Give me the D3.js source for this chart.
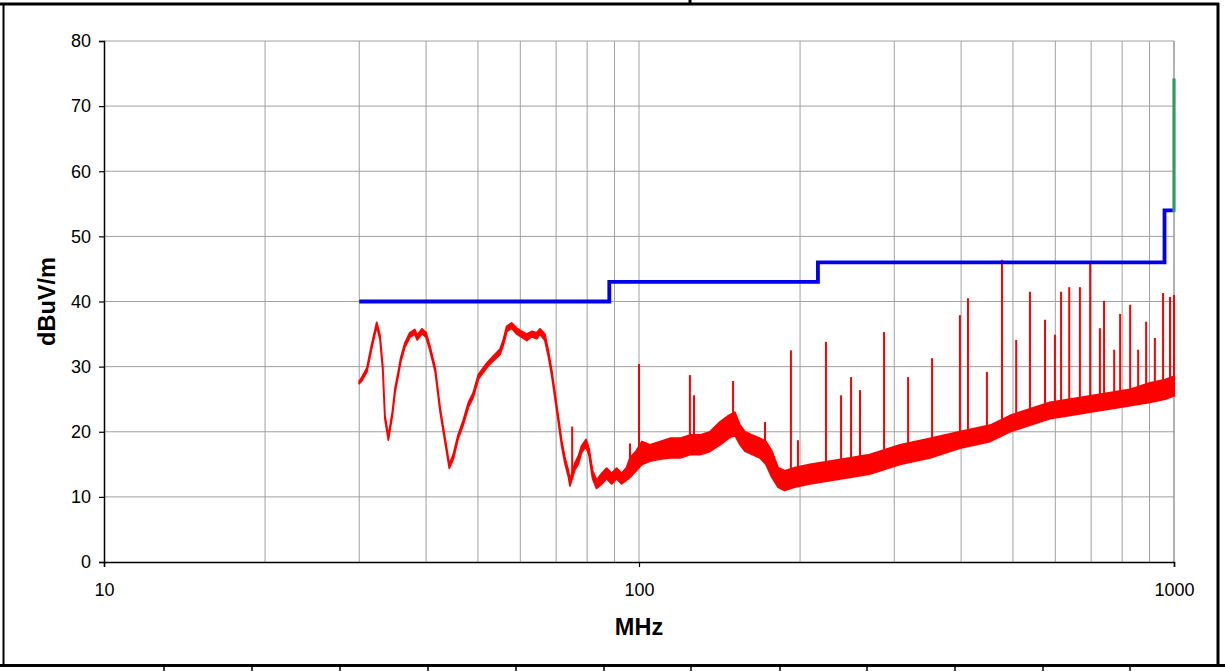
<!DOCTYPE html>
<html>
<head>
<meta charset="utf-8">
<script src="https://cdn.jsdelivr.net/npm/d3@7"></script>
<style>
  body { margin: 0; background: #fff; }
  svg { display: block; font-family: "Liberation Sans", Arial, sans-serif; }
</style>
</head>
<body>
<svg width="1225" height="671"></svg>
<script>
// axis ticks
const yTicks = [0, 10, 20, 30, 40, 50, 60, 70, 80];
const xTicks = [10, 100, 1000];
const gridFreqs = [20, 30, 40, 50, 60, 70, 80, 90, 100, 200, 300, 400, 500, 600, 700, 800, 900];

// limit line (class B, 3 m) - level changes at each frequency
const limitFreq = [30, 88, 216, 960, 1000];
const limitLevel = [40, 43, 46, 54, 54];
const peakLimitFreq = [1000, 1000];
const peakLimitLevel = [54, 74];

const traceFreq = [30.0, 30.3, 31.0, 31.65, 32.34, 32.8, 33.2, 33.5, 34.0, 34.6, 35.0, 35.5, 35.85, 36.5, 37.3,
  38.1, 38.5, 39.3, 40.0, 40.7, 41.6, 42.5, 43.4, 44.2, 45.0, 45.9, 46.9, 48.0, 49.0, 50.1, 51.9, 53.4, 55.0,
  55.8, 56.6, 57.8, 59.1, 60.4, 61.7, 63.0, 64.4, 65.3, 66.7, 67.7, 68.7, 69.7, 70.7, 71.7, 72.7, 73.8, 74.3,
  75.9, 77.0, 78.1, 79.6, 80.7, 81.9, 83.3, 85.2, 87.0, 88.9, 90.8, 92.8, 94.8, 96.2, 98.7, 101.3, 104.8,
  109.5, 114.3, 119.3, 124.5, 130.0, 135.8, 141.7, 147.1, 151.1, 154.5, 157.8, 162.8, 168.3, 172.7, 177.2,
  181.9, 187.2, 195.5, 208.7, 227.6, 247.9, 269.8, 307.5, 350, 398, 453, 494, 538, 586, 640, 697, 760, 828,
  902, 962, 1000];
const traceLow = [27.4, 27.8, 29.2, 32.8, 36.2, 34.2, 29.4, 22.0, 18.7, 22.5, 26.1, 28.7, 30.7, 33.0, 34.5,
  35.0, 34.1, 35.1, 34.5, 32.4, 29.2, 23.0, 18.4, 14.4, 15.9, 18.9, 21.0, 23.8, 25.3, 28.1, 29.8, 30.9, 31.9,
  33.4, 35.4, 35.9, 35.0, 34.5, 34.0, 34.6, 34.3, 35.0, 34.0, 31.6, 28.6, 25.0, 21.4, 17.8, 15.2, 13.1, 11.7,
  14.2, 15.0, 16.8, 17.8, 16.3, 12.8, 11.3, 12.0, 12.8, 12.0, 12.8, 12.0, 12.6, 13.0, 14.0, 15.0, 15.5,
  15.8, 16.0, 16.0, 16.5, 16.5, 17.0, 18.0, 19.0, 19.5, 18.0, 17.0, 16.5, 16.0, 15.0, 13.0, 11.5, 11.0,
  11.5, 12.0, 12.5, 13.0, 13.5, 15.0, 16.0, 17.5, 18.5, 20.0, 21.0, 22.0, 22.5, 23.0, 23.5, 24.0, 24.5,
  25.0, 25.5];
const traceHigh = [27.8, 28.3, 29.8, 33.4, 36.8, 34.8, 30.0, 22.6, 19.3, 23.1, 26.7, 29.3, 31.3, 33.6, 35.2,
  35.7, 34.8, 35.8, 35.2, 33.0, 29.8, 23.6, 19.0, 15.0, 16.6, 19.5, 21.7, 24.5, 26.0, 28.8, 30.5, 31.6, 32.7,
  34.2, 36.2, 36.7, 35.9, 35.4, 35.0, 35.4, 35.2, 35.8, 35.0, 32.4, 29.4, 25.8, 22.2, 18.6, 16.0, 14.0, 12.6,
  15.2, 16.2, 17.8, 18.8, 17.3, 14.0, 12.6, 13.6, 14.4, 13.6, 14.4, 13.6, 14.5, 16.0, 17.0, 18.5, 18.0,
  18.5, 19.0, 19.0, 19.5, 19.5, 20.0, 21.5, 22.5, 23.0, 21.0, 20.0, 19.5, 19.0, 18.5, 17.0, 14.5, 14.0,
  14.5, 15.0, 15.5, 16.0, 16.5, 18.0, 19.0, 20.0, 21.0, 22.5, 23.5, 24.5, 25.0, 25.5, 26.0, 26.5, 27.5,
  28.0, 28.5];

// narrow emission spikes above the noise band
const spikeFreq = [75.0, 96.2, 100.0, 124.5, 126.7, 149.9, 172.0, 192.3, 198.2, 223.6, 238.6, 249.1, 258.9,
  287.1, 318.4, 353.0, 398, 412, 447, 477, 507, 538, 574, 599, 615, 637, 667, 697, 727, 740, 773, 793, 828,
  857, 887, 921, 954, 983, 1000];
const spikeTop = [20.8, 18.2, 30.4, 28.7, 25.6, 27.8, 21.5, 32.5, 18.7, 33.8, 25.6, 28.4, 26.4, 35.3, 28.4,
  31.3, 37.9, 40.5, 29.2, 46.4, 34.1, 41.5, 37.2, 34.9, 41.5, 42.2, 42.2, 46.1, 35.9, 40.1, 32.6, 38.1, 39.5,
  32.6, 36.9, 34.4, 41.3, 40.7, 41.0];

const svg = d3.select("svg");

// outer frame
svg.append("line").attr("x1", 0).attr("x2", 1219).attr("y1", 4).attr("y2", 4)
  .attr("stroke", "#000").attr("stroke-width", 3);
svg.append("line").attr("x1", 690).attr("x2", 690).attr("y1", 0).attr("y2", 4)
  .attr("stroke", "#000").attr("stroke-width", 3);
svg.append("line").attr("x1", 3.5).attr("x2", 3.5).attr("y1", 4).attr("y2", 666)
  .attr("stroke", "#000").attr("stroke-width", 2);
svg.append("line").attr("x1", 1218).attr("x2", 1218).attr("y1", 3).attr("y2", 666)
  .attr("stroke", "#000").attr("stroke-width", 3);
svg.append("line").attr("x1", 0).attr("x2", 1225).attr("y1", 665.5).attr("y2", 665.5)
  .attr("stroke", "#000").attr("stroke-width", 3);
svg.selectAll(".cell-tick")
  .data([164, 252, 340, 428, 516, 604, 691, 780, 867, 955, 1043, 1130])
  .enter().append("line")
  .attr("x1", (d) => d).attr("x2", (d) => d)
  .attr("y1", 665).attr("y2", 671)
  .attr("stroke", "#000").attr("stroke-width", 1.5);

const x = d3.scaleLog().domain([10, 1000]).range([104, 1174]);
const y = d3.scaleLinear().domain([0, 80]).range([562, 41]);

const plot = svg.append("g").attr("class", "plot");

// grid
plot.selectAll(".vgrid").data(gridFreqs).enter().append("line")
  .attr("class", "vgrid")
  .attr("x1", (d) => x(d)).attr("x2", (d) => x(d))
  .attr("y1", y(80)).attr("y2", y(0))
  .attr("stroke", "#a0a0a0").attr("stroke-width", 1);
plot.selectAll(".hgrid").data(yTicks.filter((d) => d > 0)).enter().append("line")
  .attr("class", "hgrid")
  .attr("x1", x(10)).attr("x2", x(1000))
  .attr("y1", (d) => y(d)).attr("y2", (d) => y(d))
  .attr("stroke", "#a0a0a0").attr("stroke-width", 1);
plot.append("line")
  .attr("x1", x(1000)).attr("x2", x(1000)).attr("y1", y(80)).attr("y2", y(0))
  .attr("stroke", "#999").attr("stroke-width", 1.5);

// trace band
const trace = traceFreq.map((f, i) => ({ f, lo: traceLow[i], hi: traceHigh[i] }));
const area = d3.area()
  .x((d) => x(d.f))
  .y0((d) => y(d.lo))
  .y1((d) => y(d.hi));
plot.append("path")
  .datum(trace)
  .attr("d", area)
  .attr("fill", "#ff0000")
  .attr("stroke", "#ff0000")
  .attr("stroke-width", 1.8)
  .attr("stroke-linejoin", "round");

// spikes
const bisect = d3.bisector((d) => d.f).left;
function bandLevel(f) {
  const i = Math.min(Math.max(bisect(trace, f), 1), trace.length - 1);
  const a = trace[i - 1], b = trace[i];
  const t = (Math.log(f) - Math.log(a.f)) / (Math.log(b.f) - Math.log(a.f));
  return a.lo + (b.lo - a.lo) * t;
}
plot.selectAll(".spike")
  .data(spikeFreq.map((f, i) => ({ f, top: spikeTop[i] })))
  .enter().append("line")
  .attr("class", "spike")
  .attr("x1", (d) => x(d.f)).attr("x2", (d) => x(d.f))
  .attr("y1", (d) => y(bandLevel(d.f)))
  .attr("y2", (d) => y(d.top))
  .attr("stroke", "#ff0000").attr("stroke-width", 2);

// limit lines
const limitLine = d3.line()
  .x((d) => x(d[0]))
  .y((d) => y(d[1]))
  .curve(d3.curveStepAfter);
plot.append("path")
  .datum(limitFreq.map((f, i) => [f, limitLevel[i]]))
  .attr("d", limitLine)
  .attr("fill", "none")
  .attr("stroke", "#0000ee")
  .attr("stroke-width", 3.8);
plot.append("path")
  .datum(peakLimitFreq.map((f, i) => [f, peakLimitLevel[i]]))
  .attr("d", d3.line().x((d) => x(d[0])).y((d) => y(d[1])))
  .attr("fill", "none")
  .attr("stroke", "#339966")
  .attr("stroke-width", 3.2)
  .attr("stroke-linecap", "square");

// axes
const yAxis = plot.append("g")
  .attr("transform", `translate(${x(10)},0)`)
  .call(d3.axisLeft(y).tickValues(yTicks).tickSize(5).tickPadding(8));
const xAxis = plot.append("g")
  .attr("transform", `translate(0,${y(0)})`)
  .call(d3.axisBottom(x).tickValues(xTicks).tickFormat(d3.format("d")).tickSize(5).tickPadding(16));
[yAxis, xAxis].forEach((g) => {
  g.select(".domain").attr("stroke", "#000").attr("stroke-width", 1.5);
  g.selectAll(".tick line").attr("stroke", "#000").attr("stroke-width", 1.2);
  g.selectAll("text")
    .attr("font-family", "Liberation Sans, Arial, sans-serif")
    .attr("font-size", 18)
    .attr("fill", "#000");
});

// axis titles
svg.append("text")
  .attr("x", x(100)).attr("y", 635)
  .attr("text-anchor", "middle")
  .attr("font-size", 23.5).attr("font-weight", "bold")
  .text("MHz");
svg.append("text")
  .attr("transform", `translate(55,${y(40)}) rotate(-90)`)
  .attr("text-anchor", "middle")
  .attr("font-size", 23.5).attr("font-weight", "bold")
  .text("dBuV/m");
</script>
</body>
</html>
